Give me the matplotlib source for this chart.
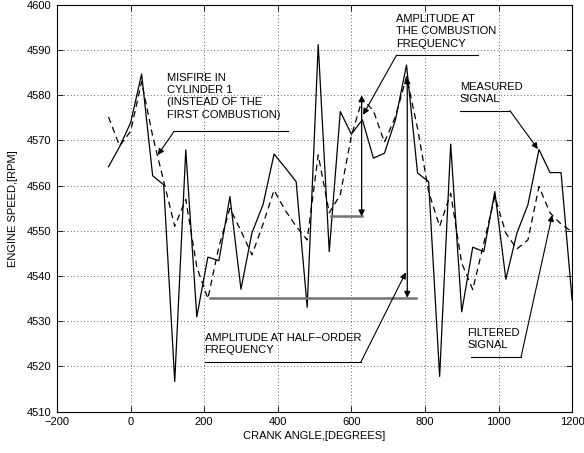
import matplotlib.pyplot as plt
import numpy as np

plt.rcParams['font.family'] = ['Liberation Sans', 'DejaVu Sans']

# crank angle samples (degrees)
angle = np.arange(-60, 1201, 30)

# measured engine speed (rpm)
measured = [4564.2, 4568.6, 4573.9, 4584.7, 4562.2, 4560.2, 4516.7, 4567.9,
            4531.0, 4544.2, 4543.4, 4557.6, 4537.1, 4549.6, 4555.8, 4567.0,
            4564.0, 4560.9, 4533.1, 4591.2, 4545.4, 4576.4, 4571.4, 4574.6,
            4566.1, 4567.2, 4574.6, 4586.7, 4562.8, 4560.9, 4517.8, 4569.2,
            4532.1, 4546.4, 4545.4, 4558.7, 4539.3, 4549.5, 4555.8, 4568.0,
            4562.9, 4562.9, 4534.7]

# filtered engine speed (rpm)
filtered = [4575.2, 4568.8, 4572.0, 4583.0, 4571.0, 4561.0, 4551.0, 4557.0,
            4542.0, 4535.0, 4546.5, 4555.0, 4550.0, 4544.7, 4551.5, 4559.0,
            4554.6, 4551.0, 4548.0, 4566.8, 4554.0, 4558.0, 4571.0, 4579.2,
            4576.6, 4569.6, 4575.3, 4584.1, 4572.7, 4558.7, 4551.0, 4558.3,
            4542.9, 4537.0, 4547.3, 4557.6, 4549.5, 4546.0, 4548.0, 4559.8,
            4554.0, 4551.5, 4549.8]

xticks = list(range(-200, 1201, 200))
yticks = list(range(4510, 4601, 10))

fig = plt.figure(figsize=(5.84, 4.53), dpi=100)
ax = fig.add_axes([0.0976, 0.0912, 0.882, 0.898])

ax.plot(angle, measured, color='black', lw=0.9)
ax.plot(angle, filtered, color='black', lw=0.9, dashes=(5, 3.5))

ax.set_xlim(-200, 1200)
ax.set_ylim(4510, 4600)
ax.set_xticks(xticks)
ax.set_yticks(yticks)
ax.set_xticklabels([str(t).replace('-', '\u2212') for t in xticks])
ax.tick_params(direction='in', length=4, width=0.6, labelsize=8,
               top=True, right=True, pad=4)
ax.grid(True, color='black', linestyle=(0, (1, 3)), lw=0.6, alpha=0.8)
for s in ax.spines.values():
    s.set_linewidth(0.8)

ax.set_xlabel('CRANK ANGLE,[DEGREES]', fontsize=8, labelpad=3)
ax.set_ylabel('ENGINE SPEED,[RPM]', fontsize=8, labelpad=6)

fs = 8
ls = 1.3
head = dict(arrowstyle='-|>', color='black', lw=0.8,
            mutation_scale=9, shrinkA=0, shrinkB=0)
both = dict(arrowstyle='<|-|>', color='black', lw=0.9,
            mutation_scale=9, shrinkA=0, shrinkB=0)

# amplitude reference lines (grey)
ax.plot([215, 777], [4535.2, 4535.2], color='0.45', lw=1.8)
ax.plot([546, 628], [4553.2, 4553.2], color='0.45', lw=1.8)
ax.annotate('', xy=(628, 4580), xytext=(628, 4553.2), arrowprops=both)
ax.annotate('', xy=(752, 4584), xytext=(752, 4535.2), arrowprops=both)

# misfire label
ax.text(100, 4585, 'MISFIRE IN\nCYLINDER 1\n(INSTEAD OF THE\nFIRST COMBUSTION)',
        fontsize=fs, va='top', ha='left', linespacing=ls)
ax.plot([118, 429], [4572, 4572], color='black', lw=0.8)
ax.annotate('', xy=(74, 4566.8), xytext=(118, 4572), arrowprops=head)

# combustion frequency label
ax.text(721, 4598, 'AMPLITUDE AT\nTHE COMBUSTION\nFREQUENCY',
        fontsize=fs, va='top', ha='left', linespacing=ls)
ax.plot([723, 945], [4588.9, 4588.9], color='black', lw=0.8)
ax.annotate('', xy=(632, 4575.7), xytext=(723, 4588.9), arrowprops=head)

# half order label
ax.text(201, 4527.5, 'AMPLITUDE AT HALF\u2212ORDER\nFREQUENCY',
        fontsize=fs, va='top', ha='left', linespacing=ls)
ax.plot([203, 626], [4521, 4521], color='black', lw=0.8)
ax.annotate('', xy=(748, 4540.8), xytext=(626, 4521), arrowprops=head)

# measured signal label
ax.text(895, 4583, 'MEASURED\nSIGNAL', fontsize=fs, va='top', ha='left',
        linespacing=ls)
ax.plot([895, 1031], [4576.6, 4576.6], color='black', lw=0.8)
ax.annotate('', xy=(1107, 4568.1), xytext=(1031, 4576.6), arrowprops=head)

# filtered signal label
ax.text(916, 4528.5, 'FILTERED\nSIGNAL', fontsize=fs, va='top', ha='left',
        linespacing=ls)
ax.plot([925, 1061], [4522, 4522], color='black', lw=0.8)
ax.annotate('', xy=(1146, 4553.5), xytext=(1061, 4522), arrowprops=head)

fig.savefig('out.png', dpi=100)
